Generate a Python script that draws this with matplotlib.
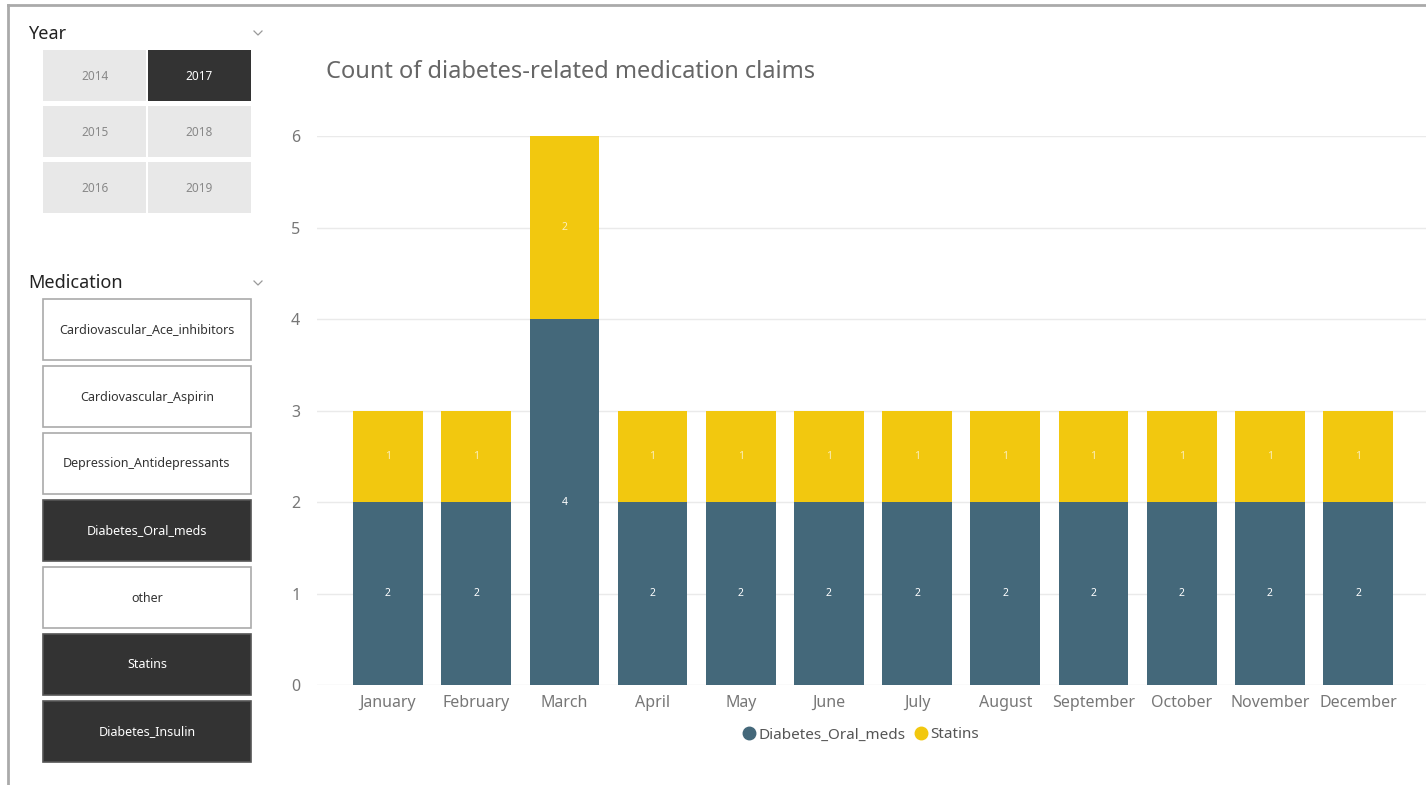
import matplotlib.pyplot as plt
from matplotlib.patches import Rectangle
from matplotlib.lines import Line2D
import numpy as np

plt.rcParams['font.family'] = ['Noto Sans', 'DejaVu Sans']

months = ["January", "February", "March", "April", "May", "June", "July",
          "August", "September", "October", "November", "December"]
oral_meds = [2, 2, 4, 2, 2, 2, 2, 2, 2, 2, 2, 2]
statins = [1, 1, 2, 1, 1, 1, 1, 1, 1, 1, 1, 1]

years = [2014, 2015, 2016, 2017, 2018, 2019]
selected_years = [2017]
medications = ["Cardiovascular_Ace_inhibitors", "Cardiovascular_Aspirin",
               "Depression_Antidepressants", "Diabetes_Oral_meds", "other",
               "Statins", "Diabetes_Insulin"]
selected_meds = ["Diabetes_Oral_meds", "Statins", "Diabetes_Insulin"]

W, H = 1426, 785
teal = "#44687a"
yellow = "#f2c80f"
dark = "#333333"

fig = plt.figure(figsize=(W / 100, H / 100), dpi=100)


def fx(x):
    return x / W


def fy(y):
    return 1 - y / H


def chevron(cx, cy):
    fig.add_artist(Line2D([fx(cx - 4), fx(cx), fx(cx + 4)],
                          [fy(cy - 2), fy(cy + 2), fy(cy - 2)],
                          color="#999999", lw=0.9))


# report frame (top and left border)
fig.add_artist(Line2D([fx(8), 1], [fy(5), fy(5)], color="#aaaaaa", lw=2))
fig.add_artist(Line2D([fx(8), fx(8)], [fy(5), 0], color="#aaaaaa", lw=2))

# Year slicer
fig.text(fx(28), fy(34), "Year", fontsize=13, color="#222222", va="center")
chevron(258, 33)
for i, yr in enumerate(years):
    col, row = i // 3, i % 3
    x0 = 43 + col * 105
    y0 = 50 + row * 56
    sel = yr in selected_years
    fig.add_artist(Rectangle((fx(x0), fy(y0 + 51)), fx(103), 51 / H,
                             facecolor=dark if sel else "#e8e8e8", edgecolor="none"))
    fig.text(fx(x0 + 51.5), fy(y0 + 26), str(yr), fontsize=8.5,
             color="white" if sel else "#888888", ha="center", va="center")

# Medication slicer
fig.text(fx(28), fy(283), "Medication", fontsize=13, color="#222222", va="center")
chevron(258, 283)
for i, med in enumerate(medications):
    y0 = 299 + i * 67
    sel = med in selected_meds
    fig.add_artist(Rectangle((fx(43), fy(y0 + 61)), fx(208), 61 / H,
                             facecolor=dark if sel else "white",
                             edgecolor="#555555" if sel else "#aaaaaa", lw=1.2))
    fig.text(fx(147), fy(y0 + 31), med, fontsize=9,
             color="white" if sel else "#333333", ha="center", va="center")

# Chart
ax = fig.add_axes([fx(317), fy(685), 1 - fx(317), (685 - 136) / H])
x = np.arange(len(months))
bw = 0.79
ax.bar(x, oral_meds, bw, color=teal, zorder=2)
ax.bar(x, statins, bw, bottom=oral_meds, color=yellow, zorder=2)
for xi, a, b in zip(x, oral_meds, statins):
    ax.text(xi, a / 2, str(a), color="white", fontsize=7.5, fontweight="bold",
            ha="center", va="center", zorder=3)
    ax.text(xi, a + b / 2, str(b), color="#fbeebb", fontsize=7.5, fontweight="bold",
            ha="center", va="center", zorder=3)

ax.set_xlim(-0.805, 11.77)
ax.set_ylim(0, 6)
ax.set_yticks(range(7))
ax.set_xticks(x)
ax.set_xticklabels(months)
ax.tick_params(axis="both", length=0, colors="#777777", labelsize=11.5)
ax.tick_params(axis="x", pad=7)
ax.tick_params(axis="y", pad=12)
ax.grid(axis="y", color="#eaeaea", lw=1, zorder=0)
for s in ax.spines.values():
    s.set_visible(False)

fig.text(fx(326), fy(72), "Count of diabetes-related medication claims",
         fontsize=17, color="#666666", va="center")

handles = [Line2D([], [], marker="o", ls="none", color=teal, markersize=9),
           Line2D([], [], marker="o", ls="none", color=yellow, markersize=9)]
fig.legend(handles, ["Diabetes_Oral_meds", "Statins"], loc="center",
           bbox_to_anchor=(fx(860), fy(735)), ncol=2, frameon=False,
           fontsize=11, labelcolor="#555555", handletextpad=0.1,
           columnspacing=0.5, handlelength=1)

fig.savefig("out.png", dpi=100)
